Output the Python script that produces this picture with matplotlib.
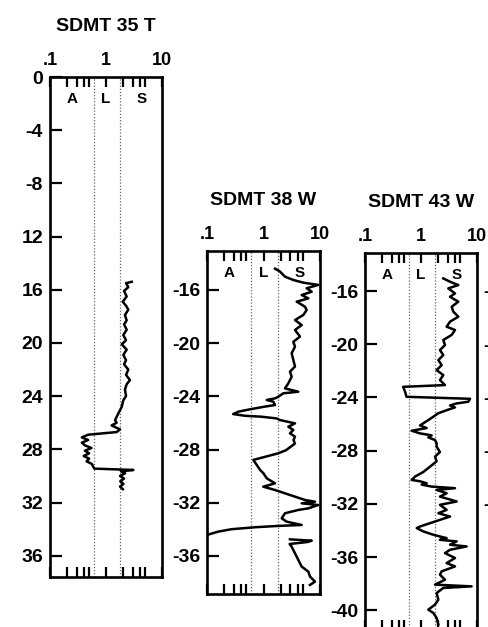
import matplotlib
matplotlib.use("Agg")
import matplotlib.pyplot as plt
import numpy as np
from matplotlib.ticker import FixedLocator, FixedFormatter, NullFormatter

plt.rcParams["font.family"] = ["Liberation Sans", "DejaVu Sans"]
plt.rcParams["font.weight"] = "bold"
plt.rcParams["axes.unicode_minus"] = False

FIG_W, FIG_H = 489, 627   # pixels
DPI = 100

# ── Data: material index ID vs depth ────────────────
TITLES = ["SDMT 35 T", "SDMT 38 W", "SDMT 43 W"]

DEPTH_35T = [15.4, 15.5, 15.8, 16.1, 16.5, 16.9, 17.2, 17.5, 17.9, 18.3,
             18.6, 19.0, 19.4, 19.8, 20.1, 20.5, 20.9, 21.3, 21.6, 22.0,
             22.4, 22.8, 23.1, 23.5, 24.0, 24.3, 24.8, 25.3, 25.8, 26.0,
             26.2, 26.5, 26.7, 26.9, 27.1, 27.3, 27.5, 27.7, 27.9, 28.1,
             28.3, 28.5, 28.7, 28.9, 29.1, 29.3, 29.45, 29.55, 29.65, 29.8,
             30.0, 30.2, 30.4, 30.6, 30.8, 31.0]
ID_35T = [2.88, 2.28, 2.50, 2.10, 2.34, 1.99, 2.28, 2.50, 2.18, 2.34,
          2.10, 2.34, 2.04, 2.28, 1.91, 2.34, 2.04, 2.28, 2.10, 2.50,
          2.28, 2.68, 2.34, 2.18, 2.28, 2.04, 1.91, 1.66, 1.45, 1.55,
          1.26, 1.78, 1.55, 0.48, 0.37, 0.48, 0.37, 0.42, 0.55, 0.42,
          0.50, 0.40, 0.50, 0.45, 0.56, 0.59, 0.62, 3.08, 1.85, 2.20,
          1.78, 2.10, 1.80, 2.05, 1.78, 2.00]

DEPTH_38W = [14.4, 14.6, 15.0, 15.25, 15.45, 15.62, 15.87, 16.13, 16.38, 16.63,
             16.88, 17.26, 17.51, 17.88, 18.26, 18.64, 19.01, 19.5, 19.9, 20.26,
             20.76, 21.26, 21.76, 22.14, 22.52, 23.02, 23.4, 23.65, 23.77, 24.03,
             24.15, 24.27, 24.4, 24.65, 24.77, 24.97, 25.15, 25.33, 25.46, 25.53,
             25.66, 25.78, 26.03, 26.28, 26.53, 26.78, 27.03, 27.28, 27.55, 27.8,
             28.05, 28.28, 28.78, 29.16, 29.53, 29.79, 30.16, 30.54, 30.79, 31.04,
             31.29, 31.54, 31.79, 31.92, 32.04, 32.17, 32.42, 32.54, 32.79, 33.17,
             33.42, 33.67, 33.74, 33.84, 33.99, 34.17, 34.42, 34.5, 34.75, 34.85,
             34.95, 35.1, 35.3, 35.8, 36.3, 36.8, 37.18, 37.55, 37.93, 38.18]
ID_38W = [1.60, 1.94, 2.40, 3.37, 5.07, 9.30, 5.80, 7.13, 4.74, 6.22,
          3.87, 5.43, 5.80, 5.07, 3.61, 4.74, 3.61, 4.43, 3.37, 3.61,
          3.15, 3.37, 3.61, 2.94, 3.15, 2.75, 2.40, 4.13, 2.24, 1.83,
          1.60, 1.14, 1.49, 1.60, 1.06, 0.58, 0.36, 0.29, 0.47, 0.93,
          1.71, 1.96, 3.61, 2.75, 3.37, 2.94, 3.61, 3.40, 3.60, 3.00,
          2.50, 1.83, 0.66, 0.76, 0.87, 1.00, 1.14, 1.60, 0.99, 1.60,
          2.40, 3.61, 5.43, 8.16, 4.74, 9.30, 6.22, 4.13, 2.40, 2.10,
          2.57, 4.74, 1.83, 0.71, 0.27, 0.158, 0.10, np.nan, 2.94, 7.13,
          6.00, 2.90, 3.15, 3.61, 4.13, 4.74, 6.22, 6.65, 8.16, 6.65]

DEPTH_43W = [15.05, 15.3, 15.55, 15.8, 16.18, 16.43, 16.8, 17.18, 17.55, 17.93,
             18.3, 18.68, 18.93, 19.3, 19.68, 20.06, 20.44, 20.81, 21.19, 21.57,
             21.94, 22.32, 22.69, 23.07, 23.2, 23.57, 23.95, 24.1, 24.32, 24.45,
             24.6, 24.75, 24.95, 25.2, 25.45, 25.7, 26.1, 26.3, 26.5, 26.7,
             26.85, 27.0, 27.2, 27.45, 27.7, 28.1, 28.45, 28.8, 29.2, 29.6,
             29.95, 30.2, 30.3, 30.45, 30.55, 30.7, 30.82, 30.95, 31.2, 31.45,
             31.82, 32.07, 32.45, 32.7, 32.95, 33.2, 33.45, 33.7, 33.82, 34.07,
             34.32, 34.45, 34.57, 34.7, 34.82, 35.07, 35.2, 35.45, 35.7, 36.07,
             36.45, 36.7, 37.07, 37.32, 37.7, 38.07, 38.2, 38.32, 38.7, 39.2,
             39.57, 39.95, 40.2, 40.57, 41.07]
ID_43W = [2.50, 3.30, 4.64, 3.07, 4.05, 3.30, 4.64, 3.53, 3.78, 4.64,
          3.30, 2.87, 4.05, 3.53, 2.50, 2.68, 2.18, 2.50, 2.04, 2.34,
          1.90, 2.50, 2.18, 2.68, 0.48, 0.52, 0.55, 7.50, 7.00, 4.30,
          3.30, 4.05, 2.90, 2.00, 1.66, 1.35, 0.96, 1.26, 0.68, 0.96,
          1.55, 1.35, 1.78, 1.90, 1.90, 2.18, 1.78, 1.90, 1.45, 1.10,
          0.78, 0.68, 0.96, 1.26, 1.03, 1.55, 4.05, 1.90, 2.87, 2.18,
          4.34, 2.18, 2.87, 2.04, 3.30, 2.18, 1.45, 0.96, 0.84, 1.10,
          1.66, 2.18, 2.87, 2.18, 4.34, 3.30, 6.53, 3.30, 2.68, 4.05,
          2.87, 4.05, 2.34, 2.18, 2.68, 1.78, 8.00, 2.50, 1.90, 2.04,
          1.78, 1.35, 1.66, 1.90, 2.04]

SERIES = [(DEPTH_35T, ID_35T), (DEPTH_38W, ID_38W), (DEPTH_43W, ID_43W)]

# soil class boundaries (clay / silt / sand) and their letters
ZONE_LINES = [0.6, 1.8]
ZONE_LABELS = ["A", "L", "S"]
ZONE_LABEL_X = [0.245, 1.0, 4.3]

TOP_TICKS = [0.1, 1, 10]
TOP_LABELS = [".1", "1", "10"]
MINOR_TICKS = [0.2, 0.3, 0.4, 0.5, 2, 3, 4, 5]

YTICKS_35T = [0, -4, -8, -12, -16, -20, -24, -28, -32, -36]
YLABELS_35T = ["0", "-4", "-8", "12", "16", "20", "24", "28", "32", "36"]
YTICKS_38W = [-16, -20, -24, -28, -32, -36]
YTICKS_43W = [-16, -20, -24, -28, -32, -36, -40]
YTICKS_NEXT = [-16, -20, -24, -28, -32]

# ── Layout: (left, top, right, bottom) in pixels, plus depth range ────────────
BOXES = [
    (50, 77, 162, 577, 0.0, 37.6),
    (207, 251, 320, 594, 13.07, 38.86),
    (365, 253, 477, 630, 13.14, 41.48),
    (518, 253, 630, 530, 13.14, 34.0),   # next log, cut off by the figure edge
]


def box_to_fig(l, t, r, b):
    return [l / FIG_W, 1 - b / FIG_H, (r - l) / FIG_W, (b - t) / FIG_H]


def draw_panel(ax, top_d, bot_d, yticks, ylabels, title=None, depth=None, vals=None):
    ax.set_xscale("log")
    ax.set_xlim(0.1, 10)
    ax.set_ylim(-bot_d, -top_d)

    if depth is not None:
        ax.plot(vals, -np.asarray(depth), color="black", lw=1.8, zorder=3)
    for v in ZONE_LINES:
        ax.axvline(v, color="#666666", lw=0.9, ls=(0, (1, 1.5)), zorder=1)

    ax.xaxis.set_major_locator(FixedLocator(TOP_TICKS))
    ax.xaxis.set_major_formatter(FixedFormatter(TOP_LABELS))
    ax.xaxis.set_minor_locator(FixedLocator(MINOR_TICKS))
    ax.xaxis.set_minor_formatter(NullFormatter())
    ax.tick_params(axis="x", which="both", top=True, bottom=True,
                   labeltop=True, labelbottom=False, direction="in",
                   length=7, width=1.6, pad=6, labelsize=13)

    ax.yaxis.set_major_locator(FixedLocator(yticks))
    ax.yaxis.set_major_formatter(FixedFormatter(ylabels))
    ax.tick_params(axis="y", direction="in", length=8.5, width=1.6,
                   right=False, pad=5, labelsize=14)

    for spine in ax.spines.values():
        spine.set_linewidth(1.9)

    for x, lbl in zip(ZONE_LABEL_X, ZONE_LABELS):
        ax.annotate(lbl, xy=(x, 1), xycoords=("data", "axes fraction"),
                    xytext=(0, -16), textcoords="offset points",
                    ha="center", va="center", fontsize=11)

    if title:
        ax.annotate(title, xy=(0.5, 1), xycoords="axes fraction",
                    xytext=(0, 33), textcoords="offset points",
                    ha="center", va="baseline", fontsize=14)


fig = plt.figure(figsize=(FIG_W / DPI, FIG_H / DPI), dpi=DPI)

ytick_sets = [(YTICKS_35T, YLABELS_35T),
              (YTICKS_38W, [str(t) for t in YTICKS_38W]),
              (YTICKS_43W, [str(t) for t in YTICKS_43W]),
              (YTICKS_NEXT, [str(t) for t in YTICKS_NEXT])]

for i, (l, t, r, b, top_d, bot_d) in enumerate(BOXES):
    ax = fig.add_axes(box_to_fig(l, t, r, b))
    yt, yl = ytick_sets[i]
    if i < len(SERIES):
        depth, vals = SERIES[i]
        draw_panel(ax, top_d, bot_d, yt, yl, TITLES[i], depth, vals)
    else:
        draw_panel(ax, top_d, bot_d, yt, yl)

fig.savefig("out.png", dpi=DPI)
